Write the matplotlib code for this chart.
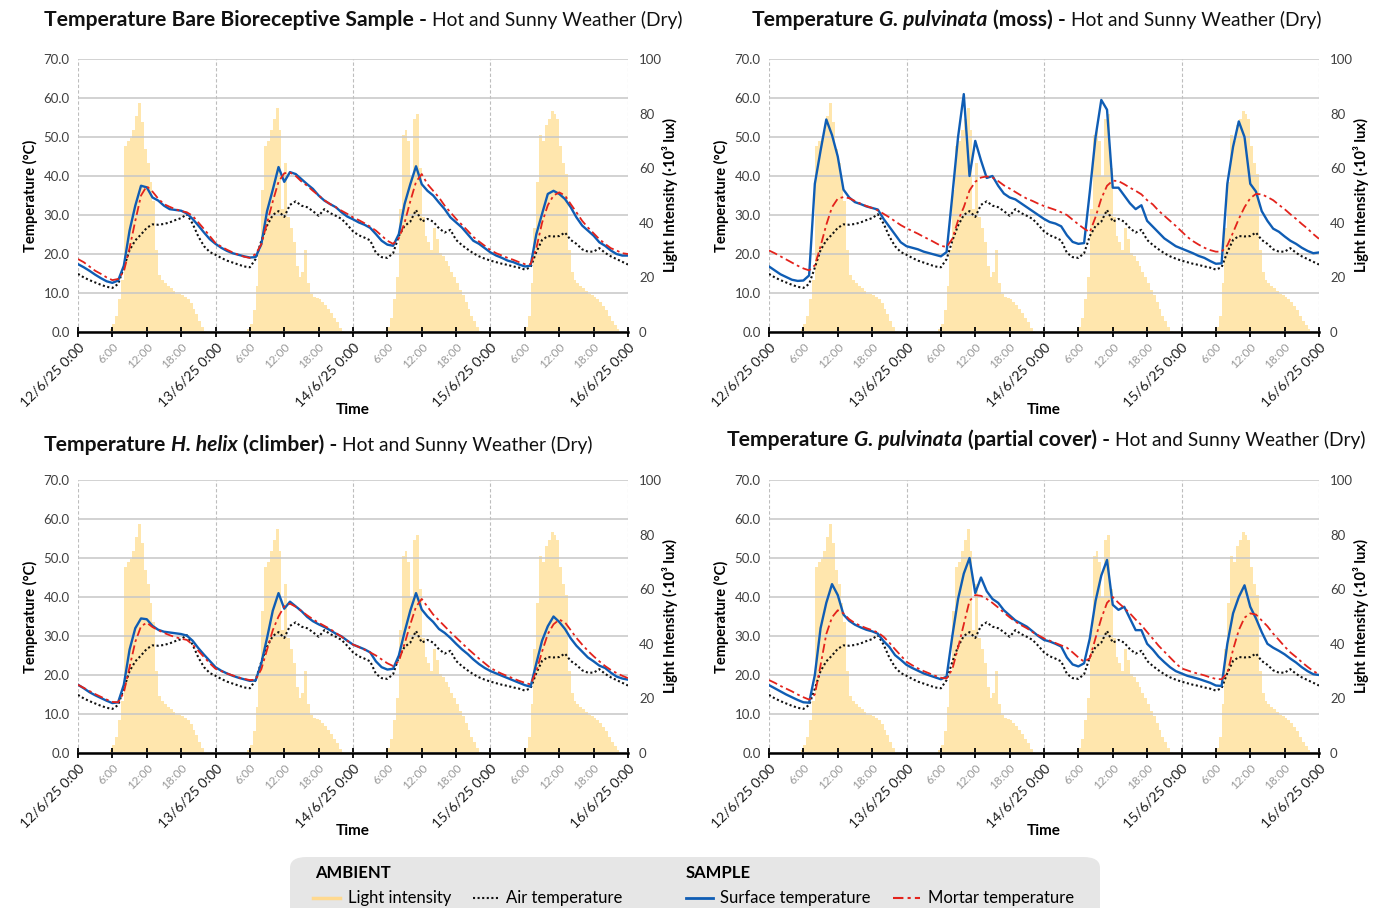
import numpy as np
import matplotlib
matplotlib.use("Agg")
import matplotlib.pyplot as plt
from matplotlib.lines import Line2D
from matplotlib.patches import FancyBboxPatch

plt.rcParams['font.family'] = ['Lato', 'DejaVu Sans']

# --- data: hourly temperatures 12/6/25 0:00 -> 16/6/25 0:00 (97 values) ---
air_temp = [
    14.9, 14.0, 13.3, 12.7, 12.1, 11.6, 11.3, 12.3, 16.5, 21.0, 23.5, 25.0, 26.7, 27.6, 27.5, 27.7, 28.1, 28.7, 29.2, 30.2, 27.8, 24.5, 22.0, 20.5,
    19.8, 19.0, 18.3, 17.8, 17.3, 16.8, 16.6, 18.7, 23.4, 27.3, 30.0, 31.0, 29.5, 32.6, 33.5, 32.4, 32.0, 31.0, 29.8, 31.5, 30.5, 29.8, 29.0, 27.5,
    25.8, 24.8, 24.2, 23.5, 20.3, 19.2, 19.0, 20.2, 24.6, 27.2, 28.3, 31.3, 28.3, 29.0, 28.3, 26.6, 25.5, 26.2, 23.6, 22.3, 21.2, 20.2, 19.4, 18.8,
    18.3, 17.9, 17.5, 17.2, 16.8, 16.5, 16.0, 16.6, 20.5, 23.6, 24.6, 24.5, 24.6, 25.5, 23.6, 22.6, 21.2, 20.6, 20.6, 21.5, 20.3, 19.4, 18.7, 18.0, 17.3,
]

surface_bare = [
    17.4, 16.6, 15.7, 14.7, 13.8, 13.0, 12.6, 13.2, 17.0, 26.0, 32.4, 37.5, 37.1, 34.5, 33.7, 32.4, 31.5, 31.3, 31.1, 30.4, 29.0, 27.3, 25.5, 23.8,
    22.6, 21.6, 20.8, 20.2, 19.8, 19.4, 19.1, 19.2, 22.5, 31.0, 36.5, 42.3, 38.5, 41.0, 40.5, 39.2, 37.9, 36.7, 35.0, 33.7, 32.8, 32.0, 30.7, 29.6,
    28.9, 28.1, 27.5, 26.7, 25.1, 23.4, 22.4, 22.1, 25.1, 32.8, 37.9, 42.5, 37.9, 36.2, 35.0, 33.2, 31.5, 29.4, 28.1, 26.8, 25.1, 23.4, 22.6, 21.5,
    20.4, 19.6, 19.0, 18.3, 17.9, 17.3, 16.8, 17.0, 25.1, 30.3, 35.4, 36.2, 35.4, 34.1, 32.0, 29.4, 27.3, 26.0, 24.7, 23.0, 22.1, 20.9, 20.0, 19.6, 19.6,
]
mortar_bare = [
    18.7, 17.9, 16.8, 15.7, 14.9, 14.0, 13.3, 13.6, 15.5, 21.5, 28.5, 35.0, 37.4, 36.0, 34.2, 32.8, 32.1, 31.5, 31.0, 30.7, 29.8, 28.1, 26.4, 24.6,
    22.8, 21.9, 21.1, 20.4, 19.8, 19.3, 19.0, 20.0, 22.5, 28.0, 33.5, 38.5, 40.7, 40.9, 40.0, 38.6, 37.5, 36.2, 35.0, 33.8, 32.8, 32.0, 31.1, 30.3,
    29.4, 28.7, 27.9, 27.0, 26.0, 24.7, 23.4, 22.6, 24.0, 28.0, 33.5, 38.5, 40.5, 37.9, 36.2, 34.5, 32.4, 30.7, 29.0, 27.5, 26.0, 24.4, 23.2, 22.1,
    21.0, 20.2, 19.6, 19.0, 18.5, 17.9, 17.4, 17.4, 21.5, 28.0, 32.5, 35.0, 35.8, 35.0, 32.8, 30.7, 28.5, 26.8, 25.3, 23.8, 22.6, 21.5, 20.9, 20.2, 20.0,
]

surface_moss = [
    16.8, 15.8, 14.8, 14.1, 13.4, 13.1, 13.2, 14.5, 38.0, 46.5, 54.5, 50.5, 45.0, 36.5, 34.5, 33.3, 32.8, 32.2, 31.8, 31.4, 29.0, 27.0, 25.0, 23.0,
    22.0, 21.6, 21.2, 20.6, 20.2, 19.8, 19.4, 20.5, 35.0, 50.0, 61.0, 40.0, 49.0, 44.0, 39.5, 40.0, 37.5, 35.5, 34.5, 34.0, 33.0, 32.0, 31.0, 30.0,
    29.0, 28.2, 27.8, 27.1, 24.8, 23.1, 22.6, 22.8, 36.0, 50.0, 59.5, 57.0, 37.0, 37.0, 35.0, 33.0, 31.5, 32.5, 28.5, 27.0, 25.5, 24.0, 23.0, 22.0,
    21.4, 20.8, 20.2, 19.5, 19.0, 18.2, 17.5, 17.6, 38.0, 47.5, 54.0, 50.0, 38.0, 36.0, 31.0, 28.5, 26.5, 25.7, 24.5, 23.4, 22.6, 21.6, 20.8, 20.2, 20.4,
]
mortar_moss = [
    20.9, 20.2, 19.4, 18.6, 17.8, 17.0, 16.3, 15.8, 17.1, 22.0, 27.5, 32.0, 34.2, 34.6, 34.3, 33.6, 32.9, 32.3, 31.8, 31.2, 30.3, 29.4, 28.4, 27.4,
    26.6, 25.9, 25.2, 24.4, 23.7, 22.9, 22.1, 21.8, 23.9, 28.6, 32.0, 36.3, 38.5, 39.6, 39.9, 39.6, 38.7, 37.6, 36.8, 35.9, 35.0, 34.2, 33.6, 32.9,
    32.3, 31.8, 31.3, 30.7, 30.0, 28.8, 27.6, 26.5, 25.6, 29.5, 34.2, 37.5, 38.8, 38.7, 37.9, 37.0, 36.2, 35.3, 33.8, 32.7, 31.1, 29.8, 28.5, 27.2,
    25.8, 24.4, 23.3, 22.4, 21.6, 21.0, 20.6, 20.6, 22.2, 25.5, 29.0, 32.0, 34.3, 35.4, 35.3, 34.6, 33.8, 32.6, 31.5, 30.2, 29.0, 27.7, 26.5, 25.1, 23.9,
]

surface_ivy = [
    17.5, 16.6, 15.6, 14.8, 14.1, 13.4, 12.8, 13.0, 17.5, 26.5, 32.0, 34.5, 34.3, 32.6, 31.6, 31.1, 30.9, 30.7, 30.5, 30.1, 28.8, 26.9, 25.2, 23.6,
    22.0, 21.1, 20.4, 19.8, 19.3, 18.9, 18.5, 18.6, 23.0, 29.5, 36.5, 41.0, 37.0, 38.8, 37.6, 36.4, 34.9, 33.8, 33.0, 32.3, 31.5, 30.6, 29.9, 28.8,
    27.8, 27.2, 26.6, 25.8, 23.5, 22.0, 21.4, 21.6, 25.0, 31.0, 36.5, 41.0, 36.8, 35.0, 33.6, 31.8, 30.8, 29.5, 28.0, 26.6, 25.4, 24.0, 22.8, 21.8,
    21.0, 20.4, 19.8, 19.2, 18.6, 18.0, 17.4, 17.0, 23.0, 28.8, 32.5, 35.0, 33.6, 31.8, 29.4, 27.5, 26.0, 24.5, 23.5, 22.4, 21.8, 20.6, 19.6, 19.1, 18.8,
]
mortar_ivy = [
    17.5, 16.7, 15.9, 15.1, 14.4, 13.7, 13.1, 13.0, 15.5, 22.0, 28.5, 32.5, 33.4, 32.3, 31.5, 30.8, 30.2, 29.7, 29.3, 29.0, 27.8, 26.2, 24.6, 23.0,
    21.6, 21.0, 20.4, 19.9, 19.4, 19.0, 18.7, 18.8, 21.5, 26.5, 31.5, 35.0, 37.6, 38.3, 37.5, 36.4, 35.3, 34.3, 33.4, 32.6, 31.8, 30.8, 29.8, 28.8,
    27.8, 27.2, 26.5, 25.8, 25.0, 24.0, 23.0, 22.3, 23.5, 28.0, 33.0, 37.5, 39.5, 37.5, 35.5, 34.0, 32.5, 31.0, 29.6, 28.2, 26.8, 25.5, 24.2, 23.0,
    21.8, 21.0, 20.3, 19.7, 19.1, 18.5, 18.0, 17.6, 21.0, 26.0, 30.5, 33.0, 34.2, 33.5, 31.5, 29.5, 27.8, 26.2, 24.8, 23.5, 22.3, 21.3, 20.5, 19.8, 19.2,
]

surface_partial = [
    17.4, 16.6, 15.8, 15.0, 14.3, 13.6, 13.0, 12.9, 20.0, 32.0, 38.5, 43.3, 40.5, 35.5, 33.9, 32.9, 32.2, 31.6, 31.2, 30.6, 28.7, 27.2, 25.1, 23.9,
    22.6, 21.8, 21.1, 20.4, 19.9, 19.4, 18.9, 19.6, 30.0, 39.5, 46.0, 50.0, 41.0, 45.0, 41.5, 39.5, 38.5, 36.6, 35.3, 34.0, 33.2, 32.4, 31.2, 30.0,
    29.0, 28.6, 28.0, 27.3, 24.5, 22.7, 22.2, 23.0, 29.4, 39.0, 45.5, 49.5, 38.0, 36.7, 37.5, 34.5, 31.5, 31.5, 28.0, 26.5, 24.7, 23.3, 22.0, 21.0,
    20.4, 19.8, 19.4, 19.0, 18.5, 18.0, 17.3, 17.2, 28.0, 35.8, 40.0, 43.0, 37.5, 34.5, 31.0, 28.0, 27.0, 26.2, 25.3, 24.2, 23.2, 22.0, 21.0, 20.2, 20.0,
]
mortar_partial = [
    18.7, 18.0, 17.2, 16.5, 15.8, 15.0, 14.3, 13.7, 15.0, 22.5, 30.5, 34.8, 36.6, 35.8, 34.3, 33.3, 32.6, 32.0, 31.5, 30.9, 29.8, 28.3, 26.6, 25.0,
    23.4, 22.5, 21.7, 21.0, 20.4, 19.8, 19.3, 19.1, 21.5, 27.0, 33.0, 39.0, 40.5, 40.3, 39.5, 38.5, 37.3, 36.0, 34.8, 33.7, 32.8, 32.0, 31.0, 30.2,
    29.4, 28.8, 28.2, 27.6, 27.0, 25.8, 24.5, 23.4, 24.3, 29.5, 34.5, 38.5, 40.0, 38.5, 37.2, 35.8, 34.2, 32.8, 31.0, 29.3, 27.5, 26.0, 24.5, 23.0,
    21.7, 21.2, 20.7, 20.3, 19.9, 19.4, 19.0, 18.9, 20.5, 26.5, 31.5, 34.7, 35.8, 35.5, 34.0, 32.5, 30.6, 29.0, 27.3, 25.8, 24.6, 23.3, 22.1, 21.0, 20.2,
]

# light intensity (10^3 lux), half-hourly, 4 days x 48
light_intensity = [
    0, 0, 0, 0, 0, 0, 0, 0, 0, 0, 0, 1, 3, 6, 12, 19, 68, 70, 71, 74, 79, 84, 77, 67,
    62, 55, 48, 30, 21, 19, 18, 17, 16, 15, 14, 14, 13.5, 13, 12, 10.5, 8.5, 6.5, 4, 2, 0.5, 0, 0, 0,
    0, 0, 0, 0, 0, 0, 0, 0, 0, 0, 0, 1, 3, 8, 17, 30, 52, 68, 70, 74, 78, 82, 74, 45,
    62, 42, 38, 33, 24, 20, 22, 30, 18, 14, 13, 12.5, 12, 11, 10, 8.5, 7, 5, 3.5, 1.5, 0.5, 0, 0, 0,
    0, 0, 0, 0, 0, 0, 0, 0, 0, 0, 0, 0.5, 2, 5, 12, 20, 45, 72, 74, 70, 57, 78, 80, 60,
    42, 35, 33, 30, 38, 34, 29, 28, 26, 24, 22, 20, 18, 15.5, 13.5, 11, 8.5, 6, 4, 2, 0.5, 0, 0, 0,
    0, 0, 0, 0, 0, 0, 0, 0, 0, 0, 0, 0.5, 2, 6, 18, 38, 55, 72, 70, 76, 78, 81, 80, 78,
    68, 62, 58, 30, 22, 19, 18, 17, 16, 15, 14, 13.5, 13, 12, 11, 9.5, 8, 6, 4, 2.5, 1, 0, 0, 0,
]

tick_labels = ['12/6/25 0:00', '6:00', '12:00', '18:00',
               '13/6/25 0:00', '6:00', '12:00', '18:00',
               '14/6/25 0:00', '6:00', '12:00', '18:00',
               '15/6/25 0:00', '6:00', '12:00', '18:00',
               '16/6/25 0:00']

hot = 'Hot and Sunny Weather (Dry)'
panels = [
    ([('Temperature Bare Bioreceptive Sample -', 'bold', 'normal'), (hot, 'normal', 'normal')],
     surface_bare, mortar_bare),
    ([('Temperature', 'bold', 'normal'), ('G. pulvinata', 'bold', 'italic'), ('(moss) -', 'bold', 'normal'),
      (hot, 'normal', 'normal')], surface_moss, mortar_moss),
    ([('Temperature', 'bold', 'normal'), ('H. helix', 'bold', 'italic'), ('(climber) -', 'bold', 'normal'),
      (hot, 'normal', 'normal')], surface_ivy, mortar_ivy),
    ([('Temperature', 'bold', 'normal'), ('G. pulvinata', 'bold', 'italic'), ('(partial cover) -', 'bold', 'normal'),
      (hot, 'normal', 'normal')], surface_partial, mortar_partial),
]

LIGHT = '#FFE6AD'
BLUE = '#0F5DB4'
RED = '#E3231C'
GRID = '#C6C6C6'
W, H = 1394, 908

hours = np.arange(len(air_temp))
light_t = np.arange(len(light_intensity)) * 0.5

fig = plt.figure(figsize=(W / 100, H / 100), dpi=100)
renderer = fig.canvas.get_renderer()


def rich_title(x_px, base_px, parts):
    # bold and regular pieces side by side on one baseline
    x = x_px
    for text, weight, style in parts:
        size = 15.2 if weight == 'bold' else 13.8
        t = fig.text(x / W, 1 - base_px / H, text, fontsize=size, fontweight=weight,
                     fontstyle=style, va='baseline', ha='left', color='#111111')
        x += t.get_window_extent(renderer).width + 5


boxes = [(78, 59), (769, 59), (78, 480), (769, 480)]
titles_at = [(44, 26), (752, 26), (44, 451), (727, 446)]

for (left, top), (tx, ty), (parts, surface, mortar) in zip(boxes, titles_at, panels):
    ax = fig.add_axes([left / W, 1 - (top + 273) / H, 550 / W, 273 / H])
    ax2 = ax.twinx()
    ax.set_zorder(ax2.get_zorder() + 1)
    ax.patch.set_visible(False)

    ax2.bar(light_t + 0.25, light_intensity, width=0.5, color=LIGHT, linewidth=0)
    ax2.set_ylim(0, 100)
    ax2.set_yticks(range(0, 101, 20))
    ax2.tick_params(axis='y', length=0, labelsize=9.5, labelcolor='#404040', pad=8)
    ax2.set_ylabel('Light Intensity (·10³ lux)', fontsize=10.5, fontweight='bold', labelpad=0)

    for d in range(0, 97, 24):
        ax.axvline(d, color='#BDBDBD', lw=0.8, ls=(0, (3, 2)), zorder=0)
    ax.plot(hours, air_temp, color='#111111', lw=1.5, ls=(0, (1, 1.2)), zorder=3)
    ax.plot(hours, surface, color=BLUE, lw=1.7, zorder=4)
    ax.plot(hours, mortar, color=RED, lw=1.3, ls=(0, (5, 2, 1.5, 2)), zorder=5)

    ax.set_xlim(0, 96)
    ax.set_ylim(0, 70)
    ax.set_yticks(range(0, 71, 10))
    ax.set_yticklabels([f'{v:.1f}' for v in range(0, 71, 10)])
    ax.yaxis.grid(True, color=GRID, lw=1.1)
    ax.tick_params(axis='y', length=0, labelsize=9.5, labelcolor='#404040', pad=6)
    ax.set_ylabel('Temperature (°C)', fontsize=10.5, fontweight='bold', labelpad=4)

    ax.set_xticks(range(0, 97, 6))
    ax.set_xticklabels(tick_labels)
    ax.tick_params(axis='x', direction='inout', length=7, width=1.3, pad=3)
    for i, lbl in enumerate(ax.get_xticklabels()):
        lbl.set_rotation(45)
        lbl.set_ha('right')
        lbl.set_rotation_mode('anchor')
        if i % 4 == 0:
            lbl.set_fontsize(10)
            lbl.set_color('#1a1a1a')
        else:
            lbl.set_fontsize(8.5)
            lbl.set_color('#999999')
    ax.set_xlabel('Time', fontsize=11, fontweight='bold', labelpad=-4)

    for s in ['left', 'right', 'top']:
        ax.spines[s].set_visible(False)
        ax2.spines[s].set_visible(False)
    ax2.spines['bottom'].set_visible(False)
    ax.spines['bottom'].set_linewidth(1.8)

    rich_title(tx, ty, parts)

# legend box
fig.patches.append(FancyBboxPatch((290 / W, -0.02), 810 / W, 0.02 + (908 - 857) / H,
                                  boxstyle='round,pad=0,rounding_size=0.012',
                                  transform=fig.transFigure, facecolor='#E6E6E6',
                                  edgecolor='none', zorder=0))
fig.text(315 / W, 1 - 873 / H, 'AMBIENT', fontsize=12, fontweight='bold', va='center')
fig.text(686 / W, 1 - 873 / H, 'SAMPLE', fontsize=12, fontweight='bold', va='center')
legend_items = [
    (313, 348, 'Light intensity', dict(color='#FFD98F', lw=2.5)),
    (473, 506, 'Air temperature', dict(color='#111111', lw=1.5, ls=(0, (1, 1.2)))),
    (686, 720, 'Surface temperature', dict(color=BLUE, lw=2)),
    (893, 928, 'Mortar temperature', dict(color=RED, lw=1.5, ls=(0, (5, 2, 1.5, 2)))),
]
ly = 1 - 898 / H
for x0, xt, label, style in legend_items:
    fig.lines.append(Line2D([x0 / W, (x0 + 27) / W], [ly, ly], transform=fig.transFigure, **style))
    fig.text(xt / W, ly, label, fontsize=12, va='center')

fig.savefig('out.png', dpi=100)
